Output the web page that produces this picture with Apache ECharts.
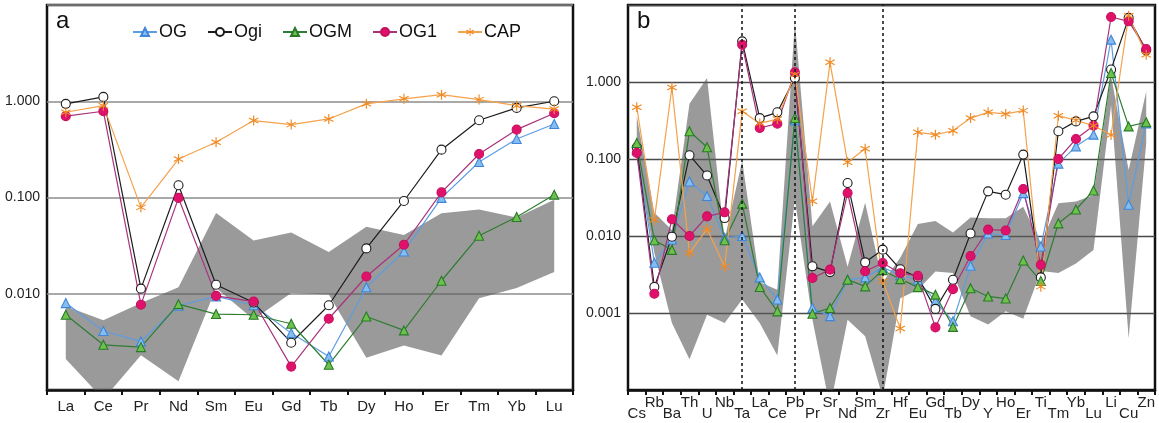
<!DOCTYPE html>
<html>
<head>
<meta charset="utf-8">
<title>REE and trace element patterns</title>
<script src="https://cdn.jsdelivr.net/npm/echarts@6/dist/echarts.min.js"></script>
<style>
  html, body { margin: 0; padding: 0; background: #fff; }
  #chart { width: 1159px; height: 423px; }
</style>
</head>
<body>
<div id="chart"></div>
<script>
// ---------- panel a: REE pattern ----------
const reeA = ['La','Ce','Pr','Nd','Sm','Eu','Gd','Tb','Dy','Ho','Er','Tm','Yb','Lu'];
const ogA   = [0.0080,0.0041,0.0032,0.0075,0.0094,0.0076,0.0039,0.00223,0.0117,0.0275,0.099,0.234,0.405,0.58];
const ogiA  = [0.94,1.11,0.0113,0.134,0.0124,0.0081,0.0031,0.0076,0.0296,0.092,0.314,0.634,0.853,1.0];
const ogmA  = [0.00605,0.00295,0.00279,0.0078,0.00615,0.00605,0.00488,0.00183,0.0058,0.00416,0.01365,0.0401,0.0627,0.107];
const og1A  = [0.70,0.787,0.0077,0.099,0.0095,0.0083,0.00175,0.0055,0.0151,0.0323,0.113,0.283,0.507,0.75];
const capA  = [0.768,0.90,0.079,0.251,0.375,0.63,0.572,0.655,0.94,1.06,1.17,1.04,0.90,0.83];
const bandHiA = [0.0074,0.0053,0.0080,0.0117,0.069,0.0357,0.0433,0.0272,0.0498,0.0408,0.0686,0.075,0.062,0.095];
const bandLoA = [0.0021,0.00080,0.0023,0.00123,0.0115,0.0054,0.0102,0.0098,0.00216,0.0029,0.00228,0.0090,0.0115,0.0168];

// ---------- panel b: multi-element pattern ----------
const elemB = ['Cs','Rb','Ba','Th','U','Nb','Ta','La','Ce','Pb','Pr','Sr','Nd','Sm','Zr','Hf','Eu','Gd','Tb','Dy','Y','Ho','Er','Ti','Tm','Yb','Lu','Li','Cu','Zn'];
const ogB  = [0.13,0.0045,0.009,0.051,0.033,0.0095,0.010,0.0029,0.0015,0.32,0.00116,0.00091,0.0027,0.0029,0.0039,0.0031,0.0027,0.00142,0.00078,0.0041,0.0108,0.0103,0.036,0.0073,0.087,0.146,0.207,3.55,0.0255,0.29];
const ogiB = [0.142,0.00218,0.0098,0.112,0.061,0.0171,3.37,0.34,0.404,1.13,0.00404,0.0034,0.0488,0.00455,0.00665,0.0037,0.0029,0.00113,0.0027,0.0108,0.038,0.0344,0.114,0.0029,0.229,0.308,0.358,1.45,6.8,2.58];
const ogmB = [0.161,0.0088,0.0066,0.229,0.142,0.0088,0.0263,0.00218,0.00105,0.34,0.00098,0.00116,0.00271,0.00222,0.0036,0.00275,0.00217,0.00173,0.00066,0.0021,0.00164,0.00154,0.0048,0.0026,0.0146,0.0221,0.039,1.31,0.265,0.30];
const og1B = [0.12,0.00178,0.0165,0.010,0.018,0.0203,3.05,0.253,0.288,1.34,0.00285,0.00366,0.0362,0.00348,0.00446,0.00329,0.00304,0.00065,0.00204,0.0055,0.0121,0.0118,0.0408,0.00422,0.100,0.182,0.271,6.98,6.14,2.68];
const capB = [0.47,0.0163,0.85,0.006,0.0123,0.004,0.416,0.29,0.33,1.25,0.0282,1.8,0.0905,0.136,0.00258,0.00063,0.222,0.207,0.233,0.34,0.404,0.385,0.425,0.0022,0.365,0.318,0.27,0.205,7.27,2.26];
const bandHiB = [0.36,0.02,0.012,0.52,1.13,0.009,0.095,0.0025,0.002,6.0,0.0134,0.028,0.004,0.027,0.0025,0.0052,0.0143,0.0157,0.0111,0.0174,0.017,0.017,0.024,0.008,0.0266,0.028,0.034,1.2,0.072,0.75];
const bandLoB = [0.10,0.006,0.00074,0.00025,0.00095,0.00074,0.0015,0.00074,0.00028,0.03,0.00082,0.00006,0.00082,0.0005,0.00008,0.00156,0.002,0.00346,0.0033,0.00091,0.00071,0.00105,0.00084,0.0035,0.0033,0.0044,0.0066,0.5,0.00047,0.16];
const dashedAt = ['Ta','Pb','Zr'];

// y tick labels shown on each panel
const yTicksA = [1, 0.1, 0.01];
const yTicksB = [1, 0.1, 0.01, 0.001];
const seriesNames = ['OG','Ogi','OGM','OG1','CAP'];

const FONT = 'Liberation Sans, Arial, Helvetica, sans-serif';
const asterisk = 'path://M0.11,1L-0.11,1L-0.11,-1L0.11,-1Z' +
  'M0.921,0.405L0.811,0.595L-0.921,-0.405L-0.811,-0.595Z' +
  'M-0.811,0.595L-0.921,0.405L0.811,-0.595L0.921,-0.405Z';

const styles = {
  OG:  { line: '#5b9de3', symbol: 'triangle', fill: '#86bdf0', border: '#3f86d8', size: 9 },
  Ogi: { line: '#1c1c1c', symbol: 'circle',   fill: '#ffffff', border: '#1c1c1c', size: 9 },
  OGM: { line: '#2e7d32', symbol: 'triangle', fill: '#6cc24a', border: '#2a7a2a', size: 9 },
  OG1: { line: '#a8327c', symbol: 'circle',   fill: '#e0116a', border: '#c40f5e', size: 9 },
  CAP: { line: '#f4a24c', symbol: asterisk,   fill: '#f08a24', border: '#f08a24', size: 10 }
};

function lineSeries(name, data, xi, yi) {
  const s = styles[name];
  return {
    name, type: 'line', data, xAxisIndex: xi, yAxisIndex: yi, z: 3,
    symbol: s.symbol, symbolSize: s.size, showAllSymbol: true,
    lineStyle: { color: s.line, width: 1.2 },
    itemStyle: { color: s.fill, borderColor: s.border, borderWidth: name === 'CAP' ? 0 : 1.1 },
    emphasis: { disabled: true },
    animation: false
  };
}

// shaded envelope drawn as one polygon: upper edge left->right, lower edge back
function bandSeries(lower, upper, xi, yi) {
  return {
    type: 'custom', xAxisIndex: xi, yAxisIndex: yi, z: 1, clip: true, silent: true,
    data: lower.map((v, i) => [i, v, upper[i]]),
    encode: { x: 0, y: [1, 2] },
    renderItem: function (params, api) {
      if (params.dataIndex !== 0) return null;
      const pts = [];
      for (let i = 0; i < upper.length; i++) pts.push(api.coord([i, upper[i]]));
      for (let i = lower.length - 1; i >= 0; i--) pts.push(api.coord([i, lower[i]]));
      return { type: 'polygon', shape: { points: pts }, style: { fill: 'rgba(92,92,92,0.62)' } };
    },
    animation: false
  };
}

function yLabelFormatter(ticks) {
  return function (v) {
    for (const t of ticks) if (Math.abs(Math.log10(v) - Math.log10(t)) < 1e-6) return t.toFixed(3);
    return '';
  };
}

const chart = echarts.init(document.getElementById('chart'), null, { renderer: 'canvas' });

const option = {
  animation: false,
  backgroundColor: '#fff',
  textStyle: { fontFamily: FONT },
  title: [
    { text: 'a', left: 51, top: 4, textStyle: { fontFamily: FONT, fontSize: 24, fontWeight: 'normal', color: '#111' } },
    { text: 'b', left: 632, top: 4, textStyle: { fontFamily: FONT, fontSize: 24, fontWeight: 'normal', color: '#111' } }
  ],
  legend: {
    data: seriesNames, left: 127, top: 18, itemWidth: 24, itemHeight: 10, itemGap: 20,
    textStyle: { fontFamily: FONT, fontSize: 18, color: '#111', padding: [0, 0, 0, -3] },
    selectedMode: false
  },
  grid: [
    { left: 47, top: 5, width: 526, height: 385, show: true, borderColor: '#111', borderWidth: 2.5,
      backgroundColor: 'transparent', containLabel: false, outerBoundsMode: 'none' },
    { left: 628, top: 5, width: 527, height: 385, show: true, borderColor: '#111', borderWidth: 2.5,
      backgroundColor: 'transparent', containLabel: false, outerBoundsMode: 'none' }
  ],
  xAxis: [
    {
      gridIndex: 0, type: 'category', position: 'bottom', data: reeA, boundaryGap: true,
      axisLine: { lineStyle: { color: '#111', width: 2.5 } },
      axisTick: { show: true, interval: 0, length: 5, lineStyle: { color: '#111', width: 2 } },
      axisLabel: { interval: 0, margin: 9, fontSize: 15, color: '#222', fontFamily: FONT },
      splitLine: { show: false }
    },
    {
      gridIndex: 1, type: 'category', position: 'bottom', data: elemB, boundaryGap: true,
      axisLine: { lineStyle: { color: '#111', width: 2.5 } },
      axisTick: { show: true, interval: 0, length: 5, lineStyle: { color: '#111', width: 2 } },
      axisLabel: { interval: (i) => i % 2 === 0, margin: 16, fontSize: 15, color: '#222', fontFamily: FONT },
      splitLine: { show: false }
    },
    {
      gridIndex: 1, type: 'category', position: 'bottom', offset: 0, data: elemB, boundaryGap: true,
      axisLine: { show: false }, axisTick: { show: false },
      axisLabel: { interval: (i) => i % 2 === 1, margin: 5, fontSize: 15, color: '#222', fontFamily: FONT },
      splitLine: { show: false }
    }
  ],
  yAxis: [
    {
      gridIndex: 0, type: 'log', logBase: 10, min: 0.001, max: 10,
      axisLine: { show: false }, axisTick: { show: false },
      axisLabel: { formatter: yLabelFormatter(yTicksA), fontSize: 14, color: '#222', margin: 7, fontFamily: FONT },
      splitLine: { show: true, lineStyle: { color: '#8c8c8c', width: 1.6 } },
      minorSplitLine: { show: false }
    },
    {
      gridIndex: 1, type: 'log', logBase: 10, min: 0.0001, max: 10,
      axisLine: { show: false }, axisTick: { show: false },
      axisLabel: { formatter: yLabelFormatter(yTicksB), fontSize: 14, color: '#222', margin: 7, fontFamily: FONT },
      splitLine: { show: true, lineStyle: { color: '#4a4a4a', width: 1.3 } },
      minorSplitLine: { show: false }
    }
  ],
  series: [
    bandSeries(bandLoA, bandHiA, 0, 0),
    lineSeries('OG', ogA, 0, 0),
    lineSeries('Ogi', ogiA, 0, 0),
    lineSeries('OGM', ogmA, 0, 0),
    lineSeries('OG1', og1A, 0, 0),
    lineSeries('CAP', capA, 0, 0),

    bandSeries(bandLoB, bandHiB, 1, 1),
    Object.assign(lineSeries('OG', ogB, 1, 1), {
      markLine: {
        silent: true, symbol: ['none', 'none'], label: { show: false },
        lineStyle: { color: '#111', width: 1.5, type: [3, 3] },
        data: dashedAt.map(c => ({ xAxis: c }))
      }
    }),
    lineSeries('Ogi', ogiB, 1, 1),
    lineSeries('OGM', ogmB, 1, 1),
    lineSeries('OG1', og1B, 1, 1),
    lineSeries('CAP', capB, 1, 1)
  ]
};

chart.setOption(option);
</script>
</body>
</html>
